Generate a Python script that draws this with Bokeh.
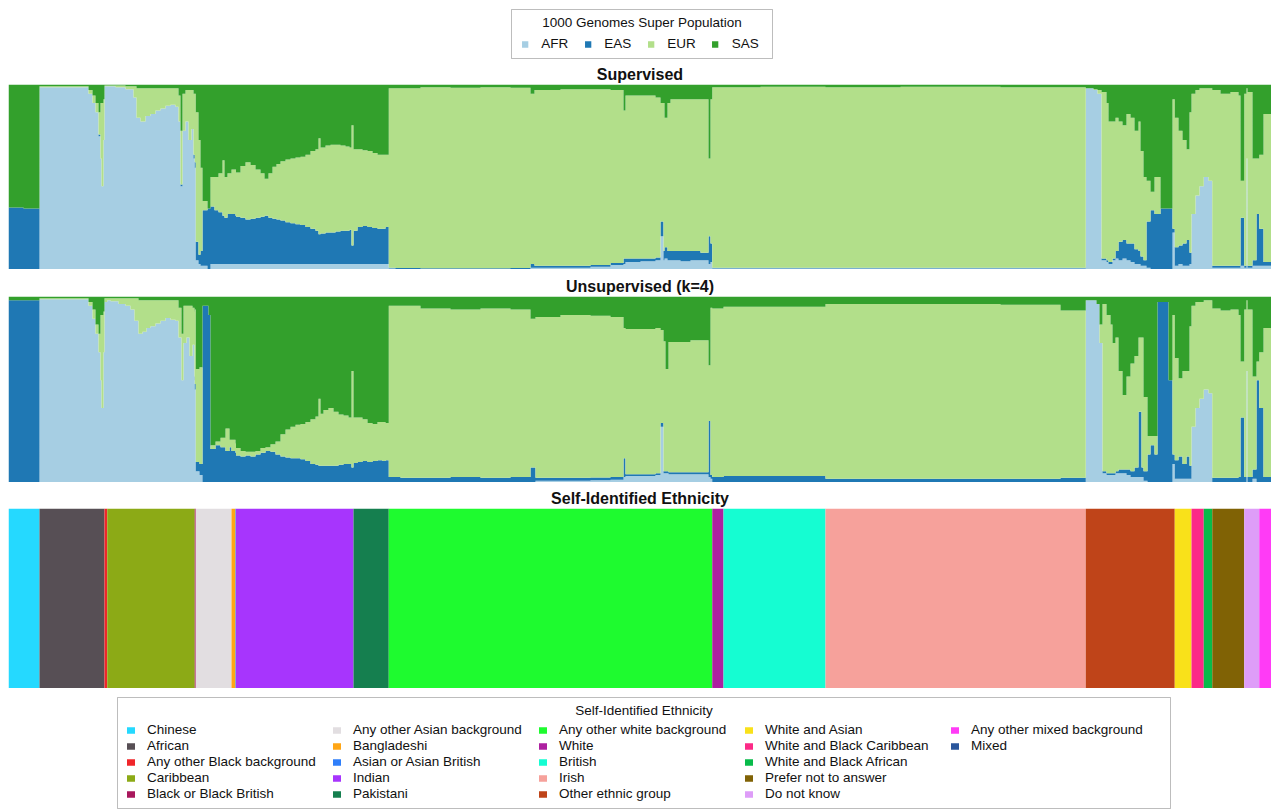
import numpy as np
from bokeh.plotting import figure
from bokeh.models import Range1d, Legend, LegendItem, Title, ColumnDataSource, BoxAnnotation, Label
from bokeh.layouts import column
from bokeh.embed import file_html
from bokeh.resources import INLINE

FONT = "Liberation Sans"

# ---------------- Self-identified ethnicity (sample counts, in plot order) ----------------
eth_names = ["Chinese", "African", "Any other Black background", "Caribbean", "Black or Black British",
             "Any other Asian background", "Bangladeshi", "Asian or Asian British", "Indian", "Pakistani",
             "Any other white background", "White", "British", "Irish", "Other ethnic group",
             "White and Asian", "White and Black Caribbean", "White and Black African",
             "Prefer not to answer", "Do not know", "Any other mixed background", "Mixed"]
eth_counts = [124, 260, 11, 350, 4, 143, 16, 2, 470, 141, 1294, 45, 408, 1041, 356,
              67, 49, 34, 128, 60, 47, 2]
eth_colors = ["#25D9FF", "#574F55", "#F0262A", "#8CAA16", "#A8175C", "#E2DEE1", "#FFA616", "#2F7FFA",
              "#A735FD", "#157F4F", "#1EFB2F", "#AD21A0", "#15FDD2", "#F6A19B", "#BF4419",
              "#F9E11A", "#FC2A87", "#08BB4A", "#806205", "#DE9DF8", "#FF3BF6", "#2A569C"]

# ---------------- 1000 Genomes super populations ----------------
pop_names = ["AFR", "EAS", "EUR", "SAS"]
pop_colors = ["#a6cee3", "#1f78b4", "#b2df8a", "#33a02c"]

# ---------------- Supervised admixture (segment start index, fractions) ----------------
sup_start = [0, 60, 124, 320, 336, 348, 360, 368, 372, 380, 384, 395, 428, 468, 500, 512, 528, 548,
             568, 588, 608, 628, 648, 668, 680, 688, 696, 708, 720, 732, 740, 745, 749, 760, 768, 776,
             796, 808, 824, 840, 856, 864, 876, 892, 908, 910, 928, 948, 968, 988, 1008, 1024, 1040,
             1056, 1072, 1088, 1108, 1128, 1148, 1168, 1188, 1208, 1228, 1240, 1248, 1268, 1288, 1308,
             1328, 1348, 1364, 1372, 1380, 1396, 1416, 1436, 1456, 1476, 1496, 1508, 1521, 1548, 1648,
             1768, 1888, 2008, 2088, 2104, 2208, 2328, 2408, 2460, 2468, 2528, 2588, 2608, 2620, 2624,
             2636, 2648, 2688, 2728, 2768, 2800, 2808, 2815, 2860, 3008, 3268, 3568, 3968, 4309, 4340,
             4356, 4372, 4392, 4400, 4416, 4428, 4440, 4456, 4472, 4488, 4504, 4520, 4528, 4540, 4552,
             4568, 4584, 4608, 4656, 4665, 4680, 4696, 4712, 4724, 4732, 4748, 4764, 4781, 4800, 4815,
             4848, 4888, 4920, 4928, 4943, 4952, 4956, 4976, 4992, 5003, 5020]
sup_afr = [0, 0, .985, .95, .90, .85, .72, .60, .45, .70, .99, .99, .985, .975, .93, .82, .80, .83,
           .84, .86, .87, .885, .89, .88, .80, .45, .75, .80, .70, .76, .60, .55, .05, .03, .02, .02,
           0, .03, .03, .03, .03, .03, .03, .03, .03, .03, .03, .03, .03, .03, .03, .03, .03,
           .03, .03, .03, .03, .03, .03, .03, .03, .03, .03, .03, .03, .03, .03, .03,
           .03, .03, .03, .03, .03, .03, .03, .03, .03, .03, .03, .03, .005, .003, .003,
           .003, .003, .003, .01, .01, .01, .015, .025, .03, .04, .045, .05, .18, .05, .06,
           .05, .05, .045, .05, .05, .03, .04, .005, .005, .005, .005, .005, .005, .98, .97,
           .95, .05, .04, .03, .05, .06, .05, .06, .05, .04, .03, .03, .02, .02, .01,
           0, 0, 0, .20, .02, .03, .02, .02, .03, .30, .40, .45, .50, .48, .01,
           .01, .01, .01, .02, .01, .60, .01, .02, .02, .02, .02]
sup_eas = [.335, .33, 0, 0, 0, 0, .01, 0, 0, 0, 0, 0, 0, 0, 0, 0, 0, 0,
           0, 0, 0, 0, 0, 0, 0, .01, 0, 0, 0, 0, .02, .03, .10, .05, .08, .30,
           .33, .31, .29, .28, .26, .25, .27, .27, .26, .255, .25, .24, .245, .25, .255, .26, .25,
           .245, .24, .235, .225, .22, .215, .21, .20, .19, .18, .16, .165, .17, .17, .175,
           .18, .18, .185, .10, .18, .20, .205, .20, .195, .19, .19, .20, .005, .005, .004,
           .004, .004, .005, .02, .01, .01, .01, .01, .03, .02, .015, .015, .08, .05, .06,
           .05, .05, .055, .05, .04, .15, .10, .005, .005, .005, .005, .005, .005, 0, 0,
           0, .01, .01, .01, .01, .04, .10, .10, .09, .10, .08, .07, .05, .03, .25,
           .32, .30, .33, .02, .10, .10, .12, .14, .06, 0, 0, 0, 0, 0, .01,
           .01, .01, .01, .26, .01, 0, .01, .03, .28, .20, .02]
sup_eur = [0, 0, .005, .02, .04, .05, .12, .30, .45, .22, .005, .005, .01, .015, .06, .16, .18, .15,
           .14, .12, .11, .095, .09, .10, .14, .29, .20, .17, .27, .21, .33, .37, .70, .62, .45, .05,
           0, .16, .18, .21, .30, .22, .22, .24, .25, .24, .28, .31, .29, .26, .235, .20, .24,
           .28, .30, .32, .34, .35, .36, .37, .39, .42, .44, .52, .465, .47, .475, .47,
           .46, .455, .445, .65, .44, .42, .41, .41, .405, .40, .40, .39, .97, .972, .978,
           .975, .978, .974, .92, .95, .955, .95, .935, .80, .88, .88, .865, .64, .80, .70,
           .80, .82, .82, .82, .83, .42, .78, .975, .975, .978, .975, .978, .975, 0, .005,
           .02, .90, .85, .76, .74, .72, .65, .62, .70, .68, .64, .70, .57, .45, .22,
           .10, .20, 0, .70, .70, .62, .56, .49, .76, .65, .57, .53, .48, .50, .95,
           .93, .94, .92, .20, .93, .38, .94, .55, .30, .40, .80]
sup_sas = [.665, .67, .01, .03, .06, .10, .15, .10, .10, .08, .005, .005, .005, .01, .01, .02, .02, .02,
           .02, .02, .02, .02, .02, .02, .06, .25, .05, .03, .03, .03, .05, .05, .15, .30, .45, .63,
           .67, .50, .50, .48, .41, .50, .48, .46, .46, .475, .44, .42, .435, .46, .48, .51, .48,
           .445, .43, .415, .405, .40, .395, .39, .38, .36, .35, .29, .34, .33, .325, .325,
           .33, .335, .34, .22, .35, .35, .355, .36, .37, .38, .38, .38, .02, .02, .015,
           .018, .015, .018, .05, .03, .025, .025, .03, .14, .06, .06, .07, .10, .10, .18,
           .10, .08, .08, .08, .08, .40, .08, .015, .015, .012, .015, .012, .015, .02, .025,
           .03, .04, .10, .20, .20, .18, .20, .22, .16, .18, .25, .20, .36, .50, .52,
           .58, .50, .67, .08, .18, .25, .30, .35, .15, .05, .03, .02, .02, .02, .03,
           .05, .04, .06, .52, .05, .02, .04, .40, .40, .38, .16]

# ---------------- Unsupervised admixture (k=4) ----------------
uns_start = [0, 124, 320, 336, 348, 360, 368, 372, 380, 384, 395, 408, 440, 468, 488, 504, 520, 536,
             552, 568, 588, 608, 628, 648, 668, 680, 692, 700, 712, 724, 736, 744, 745, 749, 764, 776,
             800, 808, 828, 848, 868, 884, 892, 908, 910, 928, 948, 968, 988, 1008, 1028, 1048, 1068,
             1088, 1108, 1128, 1148, 1168, 1188, 1208, 1228, 1240, 1248, 1260, 1280, 1300, 1320, 1340,
             1360, 1372, 1380, 1396, 1416, 1436, 1456, 1476, 1496, 1508, 1521, 1568, 1648, 1768, 1888,
             2008, 2088, 2108, 2208, 2328, 2408, 2460, 2468, 2588, 2608, 2620, 2628, 2640, 2728, 2800,
             2808, 2815, 2860, 3268, 3968, 4208, 4309, 4352, 4364, 4376, 4392, 4408, 4416, 4428, 4440,
             4456, 4472, 4488, 4504, 4520, 4532, 4540, 4556, 4568, 4584, 4596, 4640, 4656, 4665, 4680,
             4696, 4712, 4724, 4732, 4748, 4764, 4781, 4800, 4815, 4848, 4888, 4920, 4928, 4943, 4952,
             4956, 4976, 4992, 5003, 5020]
uns_afr = [0, .985, .95, .88, .80, .70, .55, .40, .70, .97, .98, .975, .96, .95, .93, .87, .80, .81,
           .83, .84, .855, .87, .885, .875, .87, .78, .55, .75, .78, .68, .74, .55, .50, .06, .04, 0,
           0, 0, 0, 0, 0, 0, 0, 0, 0, 0, 0, 0, 0, 0, 0, 0, 0,
           0, 0, 0, 0, 0, 0, 0, 0, 0, 0, 0, 0, 0, 0, 0,
           0, 0, 0, 0, 0, 0, 0, 0, 0, 0, 0, 0, 0, 0, 0,
           0, 0, .01, .01, .012, .015, .03, .035, .04, .30, .05, .05, .045, .045, .03,
           .02, 0, 0, 0, 0, 0, .98, .96, .75, .05, .04, .04, .04, .05, .05,
           .05, .04, .03, .03, .03, .03, .01, 0, 0, 0, 0, 0, .10, .02, .02,
           .02, .02, .02, .30, .40, .45, .50, .48, 0, 0, 0, 0, 0, 0, .60,
           0, .02, 0, 0, 0]
uns_eas = [.98, 0, 0, 0, 0, 0, 0, 0, 0, 0, 0, 0, 0, 0, 0, 0, 0, 0,
           0, 0, 0, 0, 0, 0, 0, 0, 0, 0, 0, 0, 0, .02, .03, .05, .06, .95,
           .90, .18, .20, .19, .17, .19, .17, .16, .145, .14, .145, .14, .15, .16, .17, .165, .15,
           .14, .135, .13, .13, .125, .115, .10, .095, .09, .09, .09, .09, .09, .095, .10,
           .10, .08, .105, .11, .115, .11, .115, .12, .115, .12, .03, .025, .025, .03, .025,
           .03, .08, .015, .015, .015, .015, .10, .01, .01, .02, .01, .01, .01, .01, .30,
           .02, .03, .035, .02, .02, .025, 0, 0, 0, .01, .01, .01, .01, .01, .02,
           .02, .03, .03, .05, .35, .05, .05, .15, .20, .15, .97, .55, .05, .10, .12,
           .08, .12, .07, 0, 0, 0, 0, 0, .025, .025, .025, .03, .35, .03, 0,
           .03, .05, .55, .40, .03]
uns_eur = [0, .005, .02, .05, .05, .10, .35, .50, .22, .02, .01, .015, .03, .04, .06, .12, .18, .17,
           .15, .14, .125, .11, .095, .105, .11, .16, .25, .20, .17, .27, .20, .35, .40, .50, .52, 0,
           0, .02, .02, .05, .12, .04, .06, .05, .04, .03, .02, .025, .02, .025, .02, .04, .07,
           .12, .15, .17, .18, .19, .21, .24, .26, .36, .28, .30, .31, .29, .27, .26,
           .25, .52, .245, .24, .225, .21, .20, .205, .21, .20, .92, .925, .91, .90, .91,
           .90, .80, .865, .875, .87, .86, .70, .78, .78, .50, .70, .55, .70, .71, .30,
           .90, .905, .91, .94, .935, .90, 0, 0, .10, .90, .85, .80, .70, .72, .53,
           .40, .50, .58, .60, .40, .70, .40, .10, .05, .10, 0, 0, .75, .55, .42,
           .50, .46, .75, .65, .57, .52, .48, .50, .91, .90, .905, .87, .30, .90, .38,
           .90, .50, .10, .30, .80]
uns_sas = [.02, .01, .03, .07, .15, .20, .10, .10, .08, .01, .01, .01, .01, .01, .01, .01, .02, .02,
           .02, .02, .02, .02, .02, .02, .02, .06, .20, .05, .05, .05, .06, .08, .07, .39, .38, .05,
           .10, .80, .78, .76, .71, .77, .77, .79, .815, .83, .835, .835, .83, .815, .81, .795, .78,
           .74, .715, .70, .69, .685, .675, .66, .645, .55, .63, .61, .60, .62, .635, .64,
           .65, .40, .65, .65, .66, .68, .685, .675, .675, .68, .05, .05, .065, .07, .065,
           .07, .12, .11, .10, .103, .11, .17, .175, .17, .18, .24, .39, .245, .235, .37,
           .06, .065, .055, .04, .045, .075, .02, .04, .15, .04, .10, .15, .25, .22, .40,
           .53, .43, .36, .32, .22, .22, .54, .75, .75, .75, .03, .45, .10, .33, .44,
           .40, .40, .16, .05, .03, .03, .02, .02, .065, .075, .07, .10, .35, .07, .02,
           .07, .43, .35, .30, .17]

N = sum(eth_counts)
PAGE_W = 1271
LEFT = 8


def stacked_areas(starts, comps):
    starts = np.asarray(starts, dtype=float)
    ends = np.append(starts[1:], N)
    m = np.column_stack([np.asarray(c, dtype=float) for c in comps])
    m = m / m.sum(axis=1, keepdims=True)
    tops = np.cumsum(m, axis=1)
    bots = tops - m
    xs = np.column_stack([starts, ends]).ravel()
    return [dict(x=xs, y1=np.repeat(bots[:, k], 2), y2=np.repeat(tops[:, k], 2)) for k in range(m.shape[1])]


def make_fig(frame_h, top_border, x_range, y_range):
    p = figure(title=None, frame_width=PAGE_W - LEFT, frame_height=frame_h,
               x_range=x_range, y_range=y_range,
               x_axis_location=None, y_axis_location=None,
               output_backend="svg", toolbar_location=None,
               min_border_left=LEFT, min_border_right=0, min_border_top=top_border, min_border_bottom=0)
    p.grid.visible = False
    p.outline_line_color = None
    return p


def panel_fig(frame_h, top_border, title):
    p = make_fig(frame_h, top_border, Range1d(0, N), Range1d(0, 1))
    p.add_layout(Title(text=title, align="center", text_font=FONT, text_font_size="16px",
                       text_font_style="bold", text_color="#111111", standoff=3), "above")
    return p


def legend_fig(height):
    # x in page pixels, y measured upward from the bottom of this strip
    return make_fig(height, 0, Range1d(LEFT, PAGE_W), Range1d(0, height))


def legend_swatches(p, colors):
    # invisible (NaN) quads that only provide the coloured legend swatches
    nan = [np.nan] * len(colors)
    return p.quad(left="l", right="r", bottom="b", top="t", fill_color="color", line_color=None,
                  source=ColumnDataSource(dict(l=nan, r=nan, b=nan, t=nan, color=colors)))


def draw_admix(p, starts, comps):
    for data, col in zip(stacked_areas(starts, comps), pop_colors):
        p.varea(x="x", y1="y1", y2="y2", source=ColumnDataSource(data), fill_color=col, fill_alpha=1.0)


# ---- top legend: 1000 Genomes Super Population ----
pL = legend_fig(60)
pop_r = legend_swatches(pL, pop_colors)
pL.add_layout(BoxAnnotation(left=511, right=772, top=51, bottom=2, fill_color=None,
                            line_color="#262626", line_width=1))
pL.add_layout(Label(x=641.5, y=38, text="1000 Genomes Super Population", text_align="center",
                    text_baseline="middle", text_font=FONT, text_font_size="13.5px", text_color="#111111"))
pL.add_layout(Legend(items=[LegendItem(label=n, renderers=[pop_r], index=i) for i, n in enumerate(pop_names)],
                     orientation="horizontal", location="bottom_center",
                     label_text_font=FONT, label_text_font_size="13.5px", label_text_color="#111111",
                     glyph_width=8, glyph_height=8, label_standoff=13, label_height=14, spacing=15,
                     padding=0, margin=9, border_line_color=None, background_fill_alpha=0))

# ---- Supervised ----
p1 = panel_fig(185, 24, "Supervised")
draw_admix(p1, sup_start, [sup_afr, sup_eas, sup_eur, sup_sas])

# ---- Unsupervised ----
p2 = panel_fig(186, 27, "Unsupervised (k=4)")
draw_admix(p2, uns_start, [uns_afr, uns_eas, uns_eur, uns_sas])

# ---- Self-identified ethnicity ----
p3 = panel_fig(180, 26, "Self-Identified Ethnicity")
lefts = np.concatenate([[0], np.cumsum(eth_counts)[:-1]])
rights = np.cumsum(eth_counts)
p3.quad(left="left", right="right", bottom=0, top=1, fill_color="color", line_color=None,
        source=ColumnDataSource(dict(left=lefts, right=rights, color=eth_colors)))

# ---- bottom legend ----
pB = legend_fig(121)
eth_r = legend_swatches(pB, eth_colors)
pB.add_layout(BoxAnnotation(left=117, right=1170, top=112, bottom=1, fill_color=None,
                            line_color="#262626", line_width=1))
pB.add_layout(Label(x=643.5, y=99.5, text="Self-Identified Ethnicity", text_align="center",
                    text_baseline="middle", text_font=FONT, text_font_size="13.5px", text_color="#111111"))
pB.add_layout(Legend(items=[LegendItem(label=n, renderers=[eth_r], index=i) for i, n in enumerate(eth_names)],
                     orientation="vertical", nrows=5, location="bottom_center",
                     label_text_font=FONT, label_text_font_size="13.5px", label_text_color="#111111",
                     glyph_width=10, glyph_height=8, label_standoff=12, label_height=13, label_width=183,
                     spacing=1, padding=0, margin=8, border_line_color=None, background_fill_alpha=0))

layout = column(pL, p1, p2, p3, pB)
open("out.html", "w").write(file_html(layout, INLINE))
